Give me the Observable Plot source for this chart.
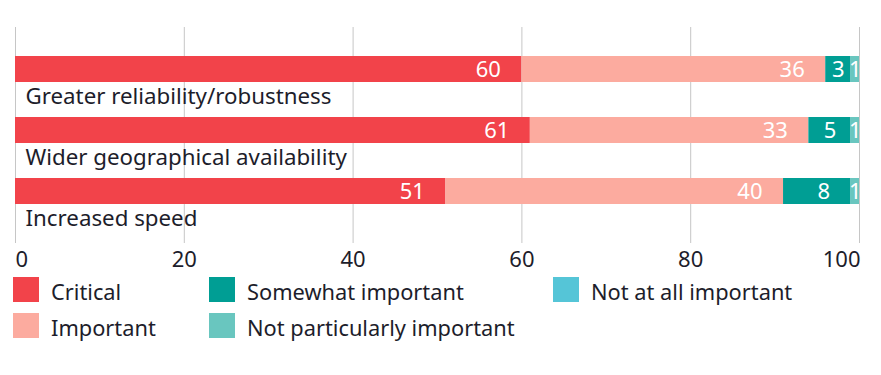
<!DOCTYPE html>
<html>
<head>
<meta charset="utf-8">
<script src="https://cdn.jsdelivr.net/npm/d3@7"></script>
<script src="https://cdn.jsdelivr.net/npm/@observablehq/plot@0.6"></script>
<style>
  html, body { margin: 0; padding: 0; background: #fff; }
  body { width: 881px; height: 375px; overflow: hidden; font-family: "Noto Sans", Roboto, sans-serif; color: #1d1d2b; }
  #chart svg { display: block; }
  .legend { display: grid; grid-template-columns: 196px 344px auto; row-gap: 10px; padding-left: 13px; margin-top: 1px; }
  .item { display: flex; align-items: center; height: 25.5px; font-size: 21.8px; white-space: nowrap; }
  .item span.t { position: relative; top: 2px; }
  .sw { width: 26px; height: 25px; margin-right: 12px; flex: none; }
</style>
</head>
<body>
<div id="chart"></div>
<div class="legend" id="legend"></div>
<script>
const categories = ["Greater reliability/robustness", "Wider geographical availability", "Increased speed"];
const levels = ["Critical", "Important", "Somewhat important", "Not particularly important", "Not at all important"];
const critical = [60, 61, 51];
const important = [36, 33, 40];
const somewhatImportant = [3, 5, 8];
const notParticularlyImportant = [1, 1, 1];
const notAtAllImportant = [0, 0, 0];
const colors = ["#f2434a", "#fcab9f", "#009e94", "#69c6bf", "#55c5d7"];
const xTicks = [0, 20, 40, 60, 80, 100];
const legendOrder = ["Critical", "Somewhat important", "Not at all important", "Important", "Not particularly important"];

const series = [critical, important, somewhatImportant, notParticularlyImportant, notAtAllImportant];
const rows = categories.flatMap((c, i) => levels.map((l, j) => ({category: c, level: l, value: series[j][i]})));

const textColor = "#1d1d2b";
const font = "'Noto Sans', Roboto, sans-serif";
const chart = Plot.plot({
  width: 881,
  height: 276,
  marginTop: 27,
  marginBottom: 33,
  marginLeft: 15,
  marginRight: 22,
  style: {fontFamily: font, fontSize: "22px", color: textColor, background: "#fff"},
  x: {domain: [0, 100], axis: null},
  y: {domain: categories, paddingInner: 0, paddingOuter: 0.27, align: 0.88, axis: null},
  color: {domain: levels, range: colors},
  marks: [
    Plot.gridX(xTicks, {stroke: "#c6c6c6", strokeOpacity: 1, strokeWidth: 1}),
    Plot.barX(rows, Plot.stackX({x: "value", y: "category", fill: "level", order: levels, insetBottom: 35, insetTop: 0})),
    Plot.text(rows, Plot.stackX2({x: "value", y: "category", z: "level", order: levels,
      text: d => d.value >= 8 ? String(d.value) : "",
      textAnchor: "end", dx: -21, dy: -17.5, fill: "#fff", fontSize: 22})),
    Plot.text(rows, Plot.stackX({x: "value", y: "category", z: "level", order: levels,
      text: d => d.value > 0 && d.value < 8 ? String(d.value) : "",
      textAnchor: "middle", dy: -17.5, fill: "#fff", fontSize: 22})),
    Plot.text(categories, {y: d => d, text: d => d, frameAnchor: "left", textAnchor: "start", dx: 10, dy: 9.5, fill: textColor, fontSize: 22.3}),
    Plot.axisX(xTicks.filter(t => t > 0 && t < 100), {label: null, tickSize: 0, tickPadding: 8, fontSize: 22, fill: textColor}),
    Plot.axisX(xTicks.filter(t => t === 0), {label: null, tickSize: 0, tickPadding: 8, fontSize: 22, textAnchor: "start", fill: textColor}),
    Plot.axisX(xTicks.filter(t => t === 100), {label: null, tickSize: 0, tickPadding: 8, fontSize: 22, textAnchor: "end", dx: 1, fill: textColor})
  ]
});
document.getElementById("chart").appendChild(chart);

const legend = document.getElementById("legend");
for (const l of legendOrder) {
  const item = document.createElement("div");
  item.className = "item";
  const sw = document.createElement("span");
  sw.className = "sw";
  sw.style.background = colors[levels.indexOf(l)];
  const t = document.createElement("span");
  t.className = "t";
  t.textContent = l;
  item.appendChild(sw);
  item.appendChild(t);
  legend.appendChild(item);
}
</script>
</body>
</html>
